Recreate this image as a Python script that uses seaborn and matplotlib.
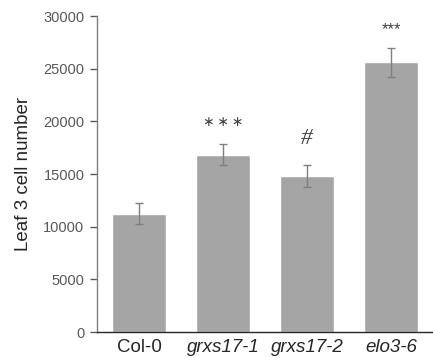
import matplotlib
matplotlib.use("Agg")
import matplotlib.pyplot as plt
import seaborn as sns
import pandas as pd

# Leaf 3 cell counts per genotype (mean and standard error)
genotypes = ["Col-0", "grxs17-1", "grxs17-2", "elo3-6"]
cell_number = [11250, 16850, 14800, 25600]
std_err = [1000, 1000, 1050, 1400]
significance = ["\u2217\u2009\u2217\u2009\u2217", "#", "***"]

df = pd.DataFrame({"genotype": genotypes, "cells": cell_number})

sns.set_style("white")
plt.rcParams["font.family"] = ["Liberation Sans", "DejaVu Sans"]

fig = plt.figure(figsize=(4.33, 3.58), dpi=100)
ax = fig.add_axes([0.224, 0.0726, 0.776, 0.8827])

sns.barplot(data=df, x="genotype", y="cells", color="#a5a5a5",
            saturation=1, width=0.65, errorbar=None, ax=ax)
ax.errorbar(range(len(genotypes)), cell_number, yerr=std_err, fmt="none",
            ecolor="#7f7f7f", elinewidth=1, capsize=3, capthick=1)

ax.set_xlim(-0.5, 3.5)
ax.set_ylim(0, 30000)
ax.set_yticks(range(0, 30001, 5000))
ax.tick_params(axis="y", labelsize=10.5, labelcolor="#595959", length=5,
               width=1, color="#595959", left=True, pad=4)
ax.tick_params(axis="x", labelsize=13.5, length=0, pad=5)
ax.set_xticks(range(len(genotypes)))
ax.set_xticklabels(genotypes)
for i, lab in enumerate(ax.get_xticklabels()):
    if i > 0:
        lab.set_style("italic")

ax.set_xlabel("")
ax.set_ylabel("Leaf 3 cell number", fontsize=13.5, labelpad=8)

sns.despine(ax=ax)
ax.spines["left"].set_color("#7f7f7f")
ax.spines["bottom"].set_color("#262626")
ax.spines["left"].set_linewidth(1)
ax.spines["bottom"].set_linewidth(1)

# Significance markers above bars
ax.text(1, cell_number[1] + std_err[1] + 2050, significance[0], ha="center",
        va="center", fontsize=10, color="#404040", family=["DejaVu Sans"])
ax.text(2, cell_number[2] + std_err[2] + 2550, significance[1], ha="center",
        va="center", fontsize=17, color="#404040", style="italic",
        family=["Liberation Serif", "DejaVu Serif"])
ax.text(3, cell_number[3] + std_err[3] + 1700, significance[2], ha="center",
        va="center", fontsize=12, color="#404040")

fig.savefig("out.png", dpi=100)
